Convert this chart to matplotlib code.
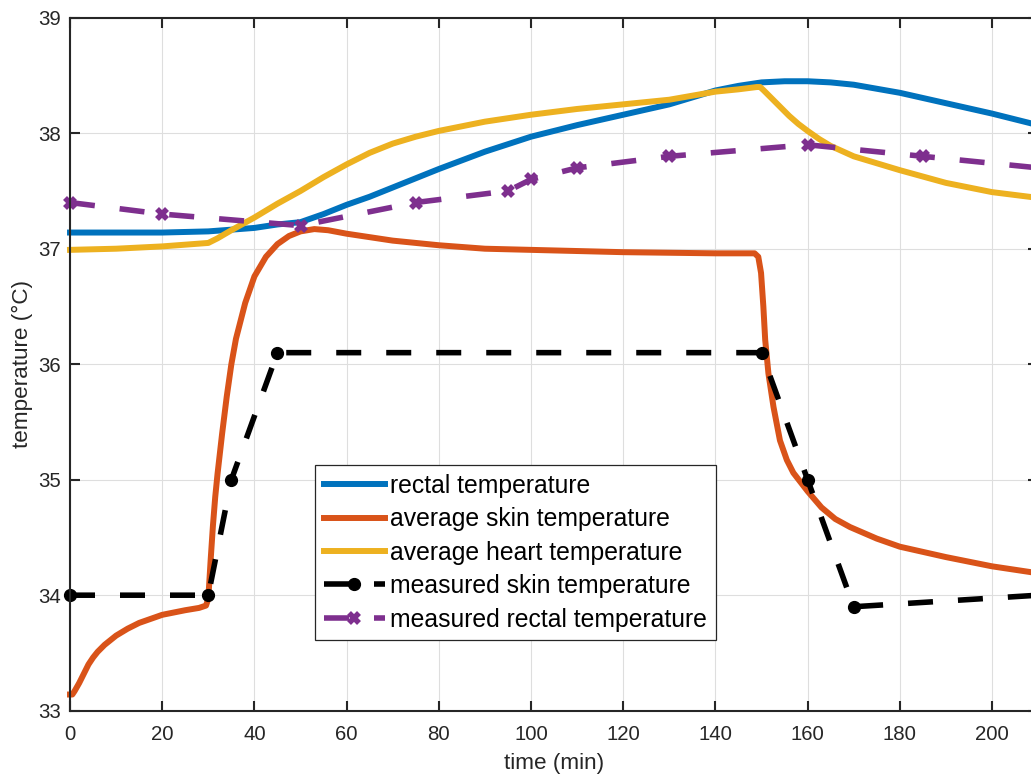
import matplotlib
matplotlib.use("Agg")
import matplotlib.pyplot as plt

plt.rcParams['font.family'] = ['Liberation Sans', 'DejaVu Sans']

# simulated rectal temperature
t_rectal = [0, 10, 20, 30, 40, 45, 50, 55, 60, 65, 70, 75, 80, 90, 100, 110,
            120, 130, 140, 145, 150, 155, 158, 160, 165, 170, 180, 190, 200, 210]
rectal = [37.14, 37.14, 37.14, 37.15, 37.18, 37.21, 37.23, 37.30, 37.38, 37.45,
          37.53, 37.61, 37.69, 37.84, 37.97, 38.07, 38.16, 38.25, 38.37, 38.41,
          38.44, 38.45, 38.45, 38.45, 38.44, 38.42, 38.35, 38.26, 38.17, 38.07]

# simulated average skin temperature
t_skin = [0, 0.5, 1, 2, 3, 4, 5, 6, 7.5, 10, 12.5, 15, 20, 25, 28, 29.5, 30,
          30.5, 31, 31.5, 32, 33, 34, 35, 36, 38, 40, 42.5, 45, 47.5, 50, 53,
          56, 60, 65, 70, 80, 90, 100, 120, 140, 148.5, 149.3, 149.9, 150.4,
          150.8, 151.5, 152.6, 154, 155.5, 156.9, 160, 163, 166, 169.2, 175,
          180, 190, 200, 210]
skin = [33.14, 33.14, 33.17, 33.24, 33.32, 33.40, 33.46, 33.51, 33.57, 33.65,
        33.71, 33.76, 33.83, 33.87, 33.89, 33.91, 33.97, 34.30, 34.60, 34.85,
        35.05, 35.40, 35.72, 36.00, 36.22, 36.53, 36.76, 36.93, 37.04, 37.11,
        37.15, 37.17, 37.16, 37.13, 37.10, 37.07, 37.03, 37.00, 36.99, 36.97,
        36.96, 36.96, 36.93, 36.79, 36.50, 36.21, 35.92, 35.63, 35.34, 35.17,
        35.06, 34.90, 34.76, 34.66, 34.59, 34.49, 34.42, 34.33, 34.25, 34.19]

# simulated average heart temperature
t_heart = [0, 10, 20, 30, 30.5, 32, 35, 40, 45, 50, 55, 60, 65, 70, 75, 80, 90,
           100, 110, 120, 130, 140, 145, 149, 149.7, 150.5, 152, 154, 156, 158,
           160, 162.5, 165, 170, 175, 180, 190, 200, 210]
heart = [36.99, 37.00, 37.02, 37.05, 37.06, 37.09, 37.16, 37.27, 37.39, 37.50,
         37.62, 37.73, 37.83, 37.91, 37.97, 38.02, 38.10, 38.16, 38.21, 38.25,
         38.29, 38.36, 38.38, 38.40, 38.40, 38.37, 38.31, 38.23, 38.15, 38.08,
         38.02, 37.95, 37.89, 37.80, 37.74, 37.68, 37.57, 37.49, 37.44]

# measurements
t_meas_skin = [0, 30, 35, 45, 150, 160, 170, 210]
meas_skin = [34.0, 34.0, 35.0, 36.1, 36.1, 35.0, 33.9, 34.0]

t_meas_rectal = [0, 20, 50, 75, 95, 100, 110, 130, 160, 185, 210]
meas_rectal = [37.4, 37.3, 37.2, 37.4, 37.5, 37.6, 37.7, 37.8, 37.9, 37.8, 37.7]

labels = ['rectal temperature', 'average skin temperature',
          'average heart temperature', 'measured skin temperature',
          'measured rectal temperature']

fig = plt.figure(figsize=(10.31, 7.74), dpi=100)
ax = fig.add_axes([0.0679, 0.0818, 0.939, 0.8953])

lw = 4.3
ax.plot(t_rectal, rectal, color='#0072BD', lw=lw, clip_on=False)
ax.plot(t_skin, skin, color='#D95319', lw=lw, clip_on=False)
ax.plot(t_heart, heart, color='#EDB120', lw=lw, clip_on=False)
ax.plot(t_meas_skin, meas_skin, color='black', lw=4.0, dashes=(4.5, 4.5),
        marker='o', ms=8.5, mew=1, clip_on=False)
ax.plot(t_meas_rectal, meas_rectal, color='#7E2F8E', lw=4.0, dashes=(4.5, 4.5),
        marker='x', ms=7, mew=4, clip_on=False)

ax.set_xlim(0, 210)
ax.set_ylim(33, 39)
ax.set_xticks(range(0, 201, 20))
ax.set_yticks(range(33, 40))
ax.grid(True, color='#dedede', lw=0.8)
ax.set_axisbelow(True)

for s in ax.spines.values():
    s.set_color('#262626')
    s.set_linewidth(1.5)
ax.tick_params(direction='in', length=7.5, width=1.5, colors='#262626',
               labelsize=14.7, top=True, right=True)
ax.tick_params(axis='x', pad=10)
ax.tick_params(axis='y', pad=6.5)

ax.set_xlabel('time (min)', fontsize=16.2, color='#262626', labelpad=7)
ax.set_ylabel('temperature (°C)', fontsize=16.2, color='#262626', labelpad=4)

leg = ax.legend(labels, loc='upper left', bbox_to_anchor=(0.2531, 0.3545),
                borderaxespad=0, fontsize=17.8, handlelength=2.45,
                handletextpad=0.24, labelspacing=0.38, borderpad=0.36,
                fancybox=False, framealpha=1, edgecolor='#262626')
leg.get_frame().set_linewidth(0.9)

fig.savefig('out.png', dpi=100)
